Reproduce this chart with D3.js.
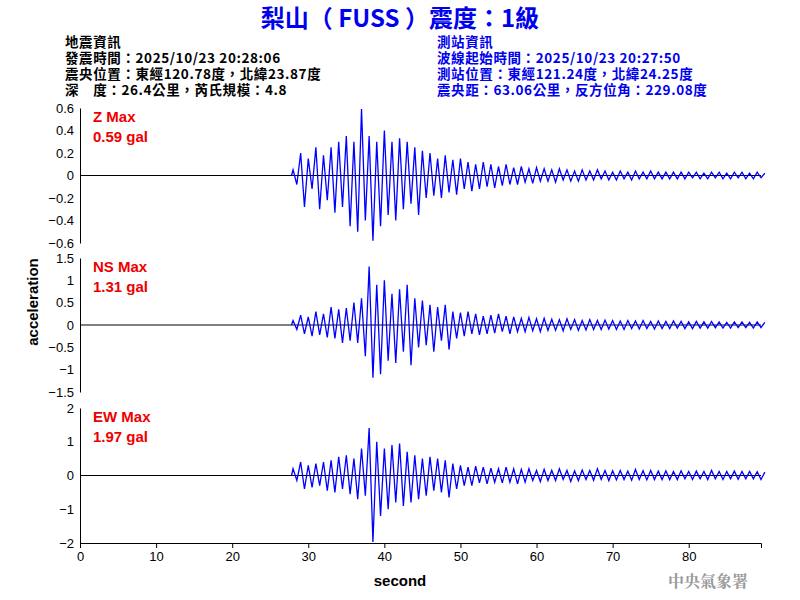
<!DOCTYPE html>
<html><head><meta charset="utf-8">
<script src="https://d3js.org/d3.v7.min.js"></script>
<style>body{margin:0;background:#fff}</style>
</head><body><div id="chart"></div>
<script>
// Peak amplitudes (gal), alternating up/down every 0.5 s starting at 28 s
var startTime = 28, step = 0.5;
var zPeaks = [0.05,-0.08,0.2,-0.28,0.15,-0.12,0.25,-0.3,0.18,-0.22,0.25,-0.33,0.3,-0.28,0.35,-0.45,0.3,-0.5,0.59,-0.4,
  0.35,-0.58,0.3,-0.45,0.4,-0.35,0.3,-0.4,0.33,-0.3,0.3,-0.25,0.25,-0.35,0.22,-0.2,0.2,-0.18,0.15,-0.2,
  0.18,-0.15,0.14,-0.17,0.15,-0.12,0.12,-0.14,0.1,-0.12,0.12,-0.1,0.1,-0.11,0.08,-0.09,0.1,-0.08,0.07,-0.08,
  0.08,-0.06,0.06,-0.07,0.07,-0.05,0.06,-0.05,0.05,-0.06,0.06,-0.04,0.05,-0.05,0.04,-0.05,0.05,-0.04,0.04,-0.04,
  0.05,-0.03,0.04,-0.04,0.03,-0.04,0.04,-0.03,0.03,-0.04,0.04,-0.03,0.03,-0.03,0.04,-0.03,0.03,-0.03,0.03,-0.03,
  0.03,-0.03,0.03,-0.03,0.03,-0.02,0.03,-0.03,0.02,-0.03,0.03,-0.02,0.03,-0.03,0.02,-0.03,0.03,-0.02,0.03,-0.03,
  0.02,-0.03,0.03,-0.02,0.02];
var nsPeaks = [0.1,-0.1,0.22,-0.2,0.18,-0.25,0.3,-0.22,0.25,-0.28,0.4,-0.3,0.35,-0.4,0.38,-0.35,0.5,-0.4,0.6,-0.7,
  1.31,-1.18,0.9,-1.1,1.0,-0.8,0.7,-0.85,0.8,-0.6,0.9,-0.9,0.6,-0.5,0.55,-0.45,0.45,-0.6,0.4,-0.35,
  0.45,-0.55,0.3,-0.3,0.28,-0.25,0.3,-0.2,0.25,-0.22,0.2,-0.2,0.22,-0.18,0.25,-0.15,0.2,-0.2,0.18,-0.15,
  0.15,-0.15,0.17,-0.13,0.14,-0.15,0.15,-0.12,0.13,-0.12,0.12,-0.13,0.14,-0.1,0.12,-0.12,0.1,-0.11,0.12,-0.1,
  0.1,-0.1,0.11,-0.09,0.1,-0.1,0.09,-0.1,0.1,-0.08,0.09,-0.09,0.1,-0.08,0.08,-0.09,0.09,-0.08,0.08,-0.08,
  0.09,-0.07,0.08,-0.08,0.07,-0.08,0.08,-0.07,0.07,-0.07,0.08,-0.06,0.07,-0.07,0.06,-0.07,0.07,-0.06,0.07,-0.06,
  0.06,-0.07,0.07,-0.06,0.06];
var ewPeaks = [0.2,-0.15,0.4,-0.4,0.3,-0.35,0.35,-0.3,0.4,-0.45,0.45,-0.5,0.55,-0.4,0.6,-0.55,0.5,-0.7,0.8,-0.6,
  1.41,-1.97,1.0,-1.2,0.8,-1.0,0.9,-0.8,0.95,-0.9,0.7,-0.8,0.6,-0.7,0.5,-0.6,0.55,-0.45,0.5,-0.5,
  0.45,-0.65,0.35,-0.4,0.3,-0.3,0.25,-0.3,0.28,-0.22,0.25,-0.25,0.22,-0.2,0.2,-0.22,0.25,-0.2,0.2,-0.25,
  0.18,-0.2,0.2,-0.15,0.15,-0.18,0.18,-0.15,0.15,-0.15,0.2,-0.12,0.15,-0.18,0.14,-0.15,0.16,-0.12,0.15,-0.14,
  0.2,-0.12,0.15,-0.15,0.14,-0.13,0.15,-0.12,0.13,-0.14,0.18,-0.12,0.14,-0.13,0.15,-0.12,0.13,-0.12,0.14,-0.12,
  0.12,-0.12,0.14,-0.1,0.12,-0.12,0.13,-0.1,0.12,-0.12,0.15,-0.1,0.12,-0.12,0.12,-0.1,0.13,-0.11,0.12,-0.1,
  0.12,-0.1,0.11,-0.12,0.1];

var channels = [
  {name: "Z", peaks: zPeaks, max: 0.6, ticks: [0.6,0.4,0.2,0,-0.2,-0.4,-0.6], label: "0.59 gal", top: 108, bottom: 243},
  {name: "NS", peaks: nsPeaks, max: 1.5, ticks: [1.5,1,0.5,0,-0.5,-1,-1.5], label: "1.31 gal", top: 258, bottom: 392},
  {name: "EW", peaks: ewPeaks, max: 2, ticks: [2,1,0,-1,-2], label: "1.97 gal", top: 408, bottom: 543}
];
var xTicks = [0,10,20,30,40,50,60,70,80];
var leftInfo = ["地震資訊","發震時間：2025/10/23 20:28:06","震央位置：東經120.78度，北緯23.87度","深　度：26.4公里，芮氏規模：4.8"];
var rightInfo = ["測站資訊","波線起始時間：2025/10/23 20:27:50","測站位置：東經121.24度，北緯24.25度","震央距：63.06公里，反方位角：229.08度"];

var svg = d3.select("#chart").append("svg").attr("width", 800).attr("height", 600)
  .style("font-family", "Arial, 'Liberation Sans', 'Noto Sans CJK TC', sans-serif");

var x = d3.scaleLinear().domain([0, 89.5]).range([80, 761]);

// Title and info block
svg.append("text").attr("x", 400).attr("y", 27).attr("text-anchor", "middle")
  .attr("fill", "#0000ee").attr("font-size", 24).attr("font-weight", "bold")
  .style("font-family", "'Noto Sans CJK TC', sans-serif").text("梨山（ FUSS ）震度：1級");
leftInfo.forEach(function(t, i) {
  svg.append("text").attr("x", 65).attr("y", 47 + i * 16).attr("font-size", 13.5).attr("font-weight", "bold")
    .attr("letter-spacing", 0.6)
    .style("font-family", "'Noto Sans CJK TC', sans-serif").attr("fill", "#000").text(t);
});
rightInfo.forEach(function(t, i) {
  svg.append("text").attr("x", 437).attr("y", 47 + i * 16).attr("font-size", 13.5).attr("font-weight", "bold")
    .attr("letter-spacing", 0.6)
    .style("font-family", "'Noto Sans CJK TC', sans-serif").attr("fill", "#0000ee").text(t);
});

channels.forEach(function(c) {
  var y = d3.scaleLinear().domain([-c.max, c.max]).range([c.bottom, c.top]);
  svg.append("g").attr("transform", "translate(80,0)")
    .call(d3.axisLeft(y).tickValues(c.ticks).tickSize(0).tickPadding(6).tickFormat(d3.format("")))
    .call(function(g) {
      g.selectAll("text").attr("font-size", 13).attr("font-family", "Arial, 'Liberation Sans'").attr("fill", "#000");
      g.select(".domain").attr("stroke", "#000");
    });
  svg.append("line").attr("x1", x(0)).attr("x2", x(89.5)).attr("y1", y(0)).attr("y2", y(0))
    .attr("stroke", "#000").attr("stroke-width", 1);
  var pts = c.peaks.map(function(v, i) { return [startTime + i * step, v]; });
  pts.unshift([startTime - 0.2, 0]);
  svg.append("path").datum(pts)
    .attr("d", d3.line().x(function(d) { return x(d[0]); }).y(function(d) { return y(d[1]); }))
    .attr("fill", "none").attr("stroke", "#0000ff").attr("stroke-width", 1.3);
  svg.append("text").attr("x", 93).attr("y", c.top + 14).attr("fill", "#ee0000").attr("font-size", 15)
    .attr("font-weight", "bold").text(c.name + " Max");
  svg.append("text").attr("x", 93).attr("y", c.top + 34).attr("fill", "#ee0000").attr("font-size", 15)
    .attr("font-weight", "bold").text(c.label);
});

var xAxis = svg.append("g").attr("transform", "translate(0,543)")
  .call(d3.axisBottom(x).tickValues(xTicks).tickSize(5).tickPadding(4));
xAxis.selectAll("text").attr("font-size", 13).attr("fill", "#000");

svg.append("text").attr("x", 400).attr("y", 586).attr("text-anchor", "middle").attr("font-size", 15)
  .attr("font-weight", "bold").text("second");
svg.append("text").attr("transform", "translate(38,302) rotate(-90)").attr("text-anchor", "middle")
  .attr("font-size", 15).attr("font-weight", "bold").text("acceleration");
svg.append("text").attr("x", 748).attr("y", 587).attr("text-anchor", "end").attr("font-size", 16)
  .attr("fill", "#999").attr("font-weight", "bold").style("font-family", "'Noto Serif CJK TC', 'Noto Sans CJK TC', serif")
  .text("中央氣象署");
</script></body></html>
